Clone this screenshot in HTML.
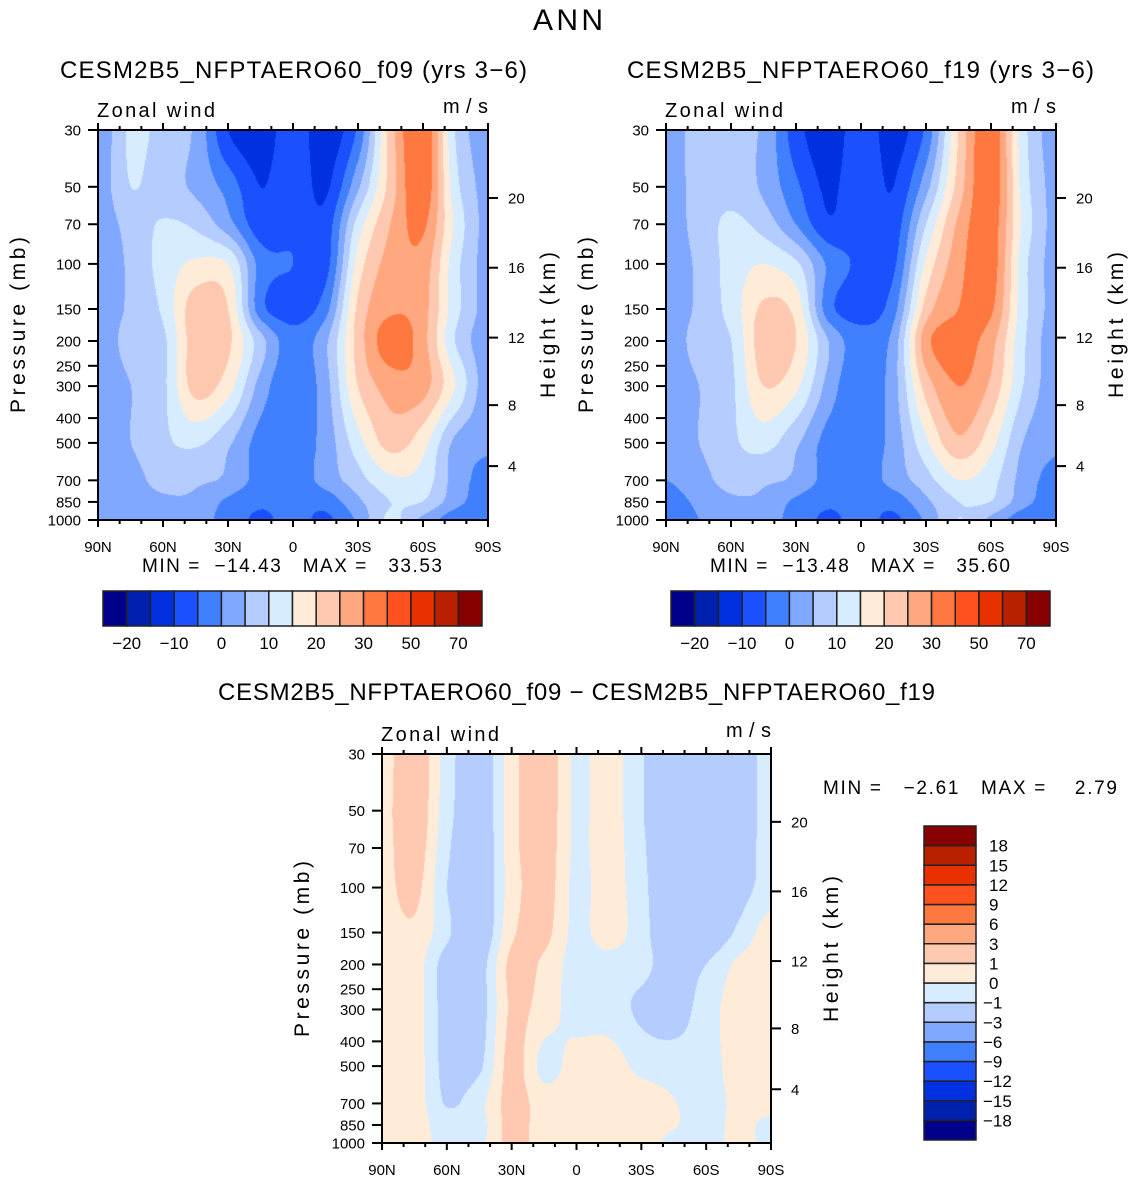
<!DOCTYPE html>
<html><head><meta charset="utf-8"><style>
body{margin:0;background:#fff;width:1135px;height:1181px;position:relative;overflow:hidden;font-family:"Liberation Sans",sans-serif}
canvas{position:absolute}
svg{position:absolute;left:0;top:0}
text{font-family:"Liberation Sans",sans-serif;fill:#000}
</style></head><body>
<canvas id="cA" style="left:98px;top:130px" width="390" height="390"></canvas>
<canvas id="cB" style="left:666px;top:130px" width="390" height="390"></canvas>
<canvas id="cC" style="left:382px;top:754px" width="389" height="389"></canvas>
<svg id="ov" width="1135" height="1181">
<text x="568" y="30" font-size="30" text-anchor="middle" textLength="70">ANN</text>
<text x="60" y="78" font-size="24" textLength="467">CESM2B5_NFPTAERO60_f09 (yrs 3−6)</text>
<text x="627" y="78" font-size="24" textLength="467">CESM2B5_NFPTAERO60_f19 (yrs 3−6)</text>
<text x="218" y="700" font-size="24" textLength="717">CESM2B5_NFPTAERO60_f09 − CESM2B5_NFPTAERO60_f19</text>
<text x="142" y="572" font-size="19" textLength="300" xml:space="preserve">MIN =  −14.43   MAX =   33.53</text>
<text x="710" y="572" font-size="19" textLength="300" xml:space="preserve">MIN =  −13.48   MAX =   35.60</text>
<text x="823" y="794" font-size="19" textLength="294" xml:space="preserve">MIN =   −2.61   MAX =    2.79</text>
</svg>
<script>
const lats=['90N','60N','30N','0','30S','60S','90S'];
const plevs=[30,50,70,100,150,200,300,500,700,850,1000];
const pTicks=[30,50,70,100,150,200,250,300,400,500,700,850,1000];
const kmTicks=[4,8,12,16,20];
const kmPress=[616,356,194,103.5,55.3];
const levelsU=[-20,-15,-10,-5,0,5,10,15,20,25,30,40,50,60,70];
const cbLabelsU=['−20','−10','0','10','20','30','50','70'];
const levelsD=[-18,-15,-12,-9,-6,-3,-1,0,1,3,6,9,12,15,18];
const cbLabelsD=['−18','−15','−12','−9','−6','−3','−1','0','1','3','6','9','12','15','18'];
const colors=['#00008a','#0020b0','#0030e0','#1a50ff','#4080ff','#80a8ff','#b4ccff','#d8ecff','#ffecd8','#ffc8b0','#ffa880','#ff7840','#ff5020','#e83000','#b82000','#880000'];
// rows: pressure levels (30..1000), cols: 90N..90S every 15 deg
const u09=[
[1,11,8,4,-10,-13,-7,-13,-4,22,35,10,2],
[2,10,7,4,-2,-10,-6,-11,4,22,34,12,3],
[2,7,10.5,9,2,-8,-6,-8,12,25,31,14,3],
[2,6,12,16,15,-2,-5,-7,17,27,28,12,3],
[2,6,11,23,20,-3,-7,-2,21,29,27,12,3],
[2,7,9,23,21,7,-3,4,22,33,27,10,2],
[2,5,9,22,17,3,-4,3,20,27,27,15,2],
[2,5,9,11,6,-2,-3,2,13,22,17,4,1],
[2,3,7,6,4,-2,-3,2,8,14,13,3,-2],
[1,2,4,4,-1,-4,-3,-3,4,10,10,2,-3],
[1,2,3,2,-2,-6,-3,-6,1,11,4,-3,-4]];
const u19=[
[2,7,6,4,-8,-13,-7,-12,-4,20,34,12,2],
[2,7,8,4,-4,-11,-6,-10,3,22,34,13,3],
[2,7,11,8,0,-9,-6,-8,10,26,33,14,3],
[2,6,12,15,11,-1,-6,-6,16,28,33,12,3],
[2,6,12,21,18,-3,-7,-2,22,30,31,12,3],
[2,7,10,23,20,5,-3,2,28,32,27,11,2],
[2,5,9,20,16,3,-4,3,22,30,24,10,2],
[2,5,9,12,6,-2,-3,2,14,24,17,5,1],
[0,3,7,6,4,-2,-3,2,8,15,12,3,-2],
[-2,1,4,4,-1,-4,-3,-3,4,10,10,2,-3],
[-3,0,2,2,-2,-6,-3,-6,1,10,4,-3,-4]];
const udiff=[
[0.5,1.8,-0.5,-1.8,0.6,1.8,-0.2,0.5,-0.9,-2,-2,-1.8,-0.5],
[0.6,1.8,-0.6,-1.8,0.6,1.7,-0.2,0.5,-0.9,-2,-2,-1.8,-0.5],
[0.6,1.6,-0.8,-2,0.6,1.6,-0.2,0.5,-0.8,-2,-2,-1.7,-0.5],
[0.6,1.3,-1,-2,0.5,1.5,-0.3,0.5,-0.7,-2,-2,-1.5,-0.5],
[0.5,0.8,-0.8,-2,0.8,1.3,-0.3,0.5,-0.6,-2,-2,-0.8,0.5],
[0.5,0.5,-1.5,-1.5,1.3,0.8,-0.5,-0.4,-0.7,-1.5,-1,0.2,0.5],
[0.5,0.5,-1.5,-1.5,1.2,0.5,-0.4,-0.5,-1.2,-1.5,-0.5,0.5,0.5],
[0.5,0.5,-1.4,-1.2,1.4,-0.3,0.4,0.5,-0.3,-0.5,-0.5,0.5,0.5],
[0.5,0.5,-1.1,-0.3,1.4,0.5,0.5,0.5,0.5,0.05,-0.5,0.3,0.5],
[0.5,0.5,-0.6,-0.4,1.4,0.5,0.5,0.5,0.5,0.1,-0.5,0.3,-0.3],
[0.5,0.5,-0.5,-0.3,1.4,0.5,0.5,0.5,0.5,-0.3,-0.5,0.3,-0.3]];

const L0=Math.log(30),LR=Math.log(1000/30);
function hex(c){return [parseInt(c.substr(1,2),16),parseInt(c.substr(3,2),16),parseInt(c.substr(5,2),16)];}
const rgb=colors.map(hex);
const lnP=plevs.map(Math.log);
function cr(a,b,c,d,t){return b+0.5*t*(c-a+t*(2*a-5*b+4*c-d+t*(3*(b-c)+d-a)));}
function rowAt(row,c){
  const n=row.length;let i=Math.min(Math.floor(c),n-2);const s=c-i;
  const g=j=>row[Math.max(0,Math.min(n-1,j))];
  return cr(g(i-1),g(i),g(i+1),g(i+2),s);
}
function sample(data,fx,fy){
  const lp=L0+fy*LR;
  let k=0;while(k<lnP.length-2&&lp>lnP[k+1])k++;
  const t=Math.min(1,Math.max(0,(lp-lnP[k])/(lnP[k+1]-lnP[k])));
  const c=fx*(data[0].length-1);
  const g=j=>rowAt(data[Math.max(0,Math.min(data.length-1,j))],c);
  return cr(g(k-1),g(k),g(k+1),g(k+2),t);
}
function fill(id,data,levels){
  const cv=document.getElementById(id),ctx=cv.getContext('2d');
  const W=cv.width,H=cv.height,img=ctx.createImageData(W,H);
  for(let y=0;y<H;y++)for(let x=0;x<W;x++){
    const v=sample(data,x/(W-1),y/(H-1));
    let n=0;while(n<levels.length&&v>=levels[n])n++;
    const c=rgb[n],o=(y*W+x)*4;img.data[o]=c[0];img.data[o+1]=c[1];img.data[o+2]=c[2];img.data[o+3]=255;
  }
  ctx.putImageData(img,0,0);
}
fill('cA',u09,levelsU);fill('cB',u19,levelsU);fill('cC',udiff,levelsD);

const NS='http://www.w3.org/2000/svg',ov=document.getElementById('ov');
function mk(tag,attrs,txt){const e=document.createElementNS(NS,tag);for(const k in attrs)e.setAttribute(k,attrs[k]);if(txt!==undefined)e.textContent=txt;ov.appendChild(e);return e;}
function yP(y0,h,p){return y0+h*(Math.log(p)-L0)/LR;}
function axes(tag,x0,y0,w,h){
  let e;
  e=mk('rect',{x:x0,y:y0,width:w,height:h,fill:'none',stroke:'#000','stroke-width':2});
  
  
  for(let d=0;d<=180;d+=10){
    const x=x0+w*d/180,len=d%30===0?7:4;
    e=mk('line',{x1:x,x2:x,y1:y0,y2:y0-len,stroke:'#000','stroke-width':2});
    
    
    e=mk('line',{x1:x,x2:x,y1:y0+h,y2:y0+h+len,stroke:'#000','stroke-width':2});
    
    
  }
  lats.forEach((l,i)=>{
    e=mk('text',{x:x0+w*i/6,y:y0+h+32,'font-size':15,'text-anchor':'middle'},l);
    
    
  });
  pTicks.forEach(p=>{
    const y=yP(y0,h,p);
    e=mk('line',{x1:x0-10,x2:x0,y1:y,y2:y,stroke:'#000','stroke-width':2});
    
    
    e=mk('text',{x:x0-17,y:y+5.5,'font-size':15,'text-anchor':'end'},String(p));
    
    
  });
  kmTicks.forEach((k,i)=>{
    const y=yP(y0,h,kmPress[i]);
    e=mk('line',{x1:x0+w,x2:x0+w+10,y1:y,y2:y,stroke:'#000','stroke-width':2});
    
    
    e=mk('text',{x:x0+w+20,y:y+5.5,'font-size':15},String(k));
    
    
  });
  e=mk('text',{x:0,y:0,'font-size':21,'text-anchor':'middle',transform:`translate(${x0-73},${y0+195}) rotate(-90)`,textLength:176},'Pressure (mb)');
  
  
  e=mk('text',{x:0,y:0,'font-size':21,'text-anchor':'middle',transform:`translate(${x0+w+67},${y0+195}) rotate(-90)`,textLength:146},'Height (km)');
  
  
  e=mk('text',{x:x0-1,y:y0-13,'font-size':20,textLength:118},'Zonal wind');
  
  
  e=mk('text',{x:x0+w,y:y0-17,'font-size':20,'text-anchor':'end',textLength:45},'m/s');
  
  
}
axes('f09',98,130,390,390);axes('f19',666,130,390,390);axes('diff',382,754,389,389);

function hbar(tag,x0,y0,w,h){
  const bw=w/colors.length;let e;
  colors.forEach((c,i)=>{
    e=mk('rect',{x:x0+i*bw,y:y0,width:bw,height:h,fill:c,stroke:'#222','stroke-width':1.5});
    
    
  });
  cbLabelsU.forEach((l,j)=>{
    e=mk('text',{x:x0+(2*j+1)*bw,y:y0+58,'font-size':17,'text-anchor':'middle'},l);
    
    
  });
}
hbar('f09',103,591,379,35);hbar('f19',671,591,379,35);
(function(){
  const x0=924,y0=826,w=52,h=314,bh=h/colors.length;let e;
  colors.forEach((c,i)=>{
    e=mk('rect',{x:x0,y:y0+h-(i+1)*bh,width:w,height:bh,fill:c,stroke:'#222','stroke-width':1.5});
    
    
  });
  cbLabelsD.forEach((l,j)=>{
    const y=y0+h-(j+1)*bh;
    e=mk('text',{x:l.startsWith('−')?983:989,y:y+6,'font-size':17},l);
    
    
  });
})();
</script>
</body></html>
